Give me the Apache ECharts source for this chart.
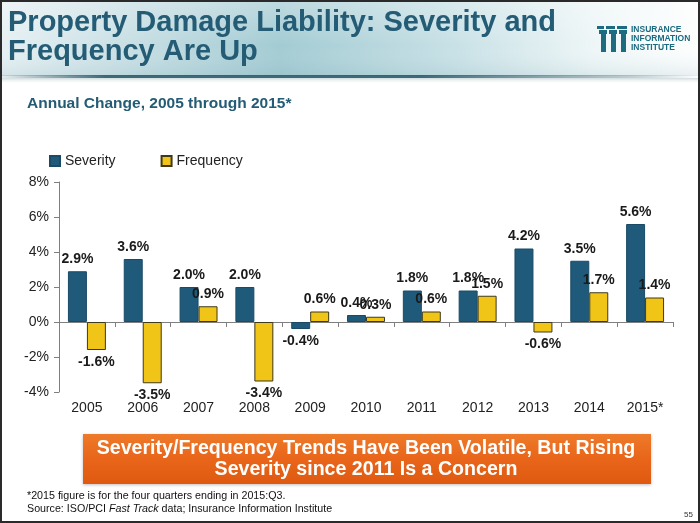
<!DOCTYPE html>
<html>
<head>
<meta charset="utf-8">
<script src="https://cdn.jsdelivr.net/npm/echarts@6/dist/echarts.min.js"></script>
<style>
html,body{margin:0;padding:0;background:#fff;}
#chart{width:700px;height:523px;}
</style>
</head>
<body>
<div id="chart"></div>
<script>
var categories = ['2005','2006','2007','2008','2009','2010','2011','2012','2013','2014','2015*'];
var severity = [2.9, 3.6, 2.0, 2.0, -0.4, 0.4, 1.8, 1.8, 4.2, 3.5, 5.6];
var frequency = [-1.6, -3.5, 0.9, -3.4, 0.6, 0.3, 0.6, 1.5, -0.6, 1.7, 1.4];
var yTicks = { min: -4, max: 8, interval: 2 };

var FONT = '"Liberation Sans", Arial, sans-serif';
var TITLE_COLOR = '#245b75';

function toItems(arr) {
  return arr.map(function (v) {
    return { value: v, label: { position: v < 0 ? 'bottom' : 'top' } };
  });
}

var chart = echarts.init(document.getElementById('chart'), null, { renderer: 'canvas' });

var option = {
  backgroundColor: '#ffffff',
  animation: false,
  textStyle: { fontFamily: FONT },
  legend: {
    left: 44, top: 149,
    itemWidth: 10, itemHeight: 10, itemGap: 45,
    icon: 'rect',
    textStyle: { fontSize: 14, color: '#222', fontFamily: FONT },
    data: ['Severity', 'Frequency']
  },
  grid: { left: 59, right: 27, top: 182, bottom: 131, containLabel: false },
  xAxis: [
    {
      type: 'category', data: categories,
      axisLine: { onZero: true, lineStyle: { color: '#7f7f7f', width: 1 } },
      axisTick: { show: true, length: 5, lineStyle: { color: '#7f7f7f' } },
      axisLabel: { show: false }
    },
    {
      type: 'category', data: categories, position: 'bottom',
      axisLine: { show: false, onZero: false },
      axisTick: { show: false },
      axisLabel: { show: true, fontSize: 14, color: '#222', margin: 9, fontFamily: FONT }
    }
  ],
  yAxis: {
    type: 'value', min: yTicks.min, max: yTicks.max, interval: yTicks.interval,
    axisLine: { show: true, lineStyle: { color: '#7f7f7f' } },
    axisTick: { show: true, length: 5, lineStyle: { color: '#7f7f7f' } },
    splitLine: { show: false },
    axisLabel: { fontSize: 14, color: '#222', margin: 10, fontFamily: FONT,
      formatter: function (v) { return v + '%'; } }
  },
  series: [
    {
      name: 'Severity', type: 'bar', xAxisIndex: 0,
      data: toItems(severity),
      barWidth: '34%', barGap: '0%',
      itemStyle: { color: '#1f5a7b', borderColor: '#1a4a66', borderWidth: 1 },
      label: { show: true, fontSize: 14, fontWeight: 'bold', color: '#1a1a1a', distance: 5,
        fontFamily: FONT, formatter: function (p) { return p.value.toFixed(1) + '%'; } }
    },
    {
      name: 'Frequency', type: 'bar', xAxisIndex: 0,
      data: toItems(frequency),
      barWidth: '34%', barGap: '0%',
      itemStyle: { color: '#f1c418', borderColor: '#3f381a', borderWidth: 1 },
      label: { show: true, fontSize: 14, fontWeight: 'bold', color: '#1a1a1a', distance: 5,
        fontFamily: FONT, formatter: function (p) { return p.value.toFixed(1) + '%'; } }
    }
  ],
  graphic: [
    // header band
    { type: 'rect', z: -10, shape: { x: 0, y: 0, width: 700, height: 76 },
      style: { fill: new echarts.graphic.LinearGradient(0, 0, 1, 0, [
        { offset: 0, color: '#e6f0f3' },
        { offset: 0.4, color: '#a3cbd3' },
        { offset: 0.65, color: '#c8e1e6' },
        { offset: 0.85, color: '#eef6f7' },
        { offset: 1, color: '#fdfefe' }
      ]) } },
    { type: 'rect', z: -9, shape: { x: 0, y: 0, width: 700, height: 76 },
      style: { fill: new echarts.graphic.LinearGradient(0, 0, 0, 1, [
        { offset: 0, color: 'rgba(255,255,255,0.3)' },
        { offset: 0.6, color: 'rgba(255,255,255,0)' },
        { offset: 1, color: 'rgba(110,160,172,0.15)' }
      ]) } },
    { type: 'rect', z: -8, shape: { x: 0, y: 75, width: 700, height: 3 },
      style: { fill: new echarts.graphic.LinearGradient(0, 0, 1, 0, [
        { offset: 0, color: 'rgba(40,90,105,0.1)' },
        { offset: 0.15, color: 'rgba(40,90,105,0.9)' },
        { offset: 0.6, color: 'rgba(40,90,105,0.9)' },
        { offset: 0.9, color: 'rgba(40,90,105,0.3)' },
        { offset: 1, color: 'rgba(40,90,105,0)' }
      ]) } },
    { type: 'rect', z: -8, shape: { x: 0, y: 78, width: 700, height: 6 },
      style: { fill: new echarts.graphic.LinearGradient(0, 0, 0, 1, [
        { offset: 0, color: 'rgba(120,150,160,0.35)' },
        { offset: 1, color: 'rgba(255,255,255,0)' }
      ]) } },
    // title
    { type: 'text', left: 8, top: 8, z: 10,
      style: { text: 'Property Damage Liability: Severity and\nFrequency Are Up',
        font: 'bold 29px ' + FONT, fill: TITLE_COLOR, lineHeight: 29 } },
    // logo
    { type: 'rect', z: 10, shape: { x: 597, y: 26, width: 7, height: 3 }, style: { fill: '#1d6b80' } },
    { type: 'rect', z: 10, shape: { x: 606, y: 26, width: 9, height: 3 }, style: { fill: '#1d6b80' } },
    { type: 'rect', z: 10, shape: { x: 617, y: 26, width: 10, height: 3 }, style: { fill: '#1d6b80' } },
    { type: 'rect', z: 10, shape: { x: 599, y: 30, width: 8, height: 4 }, style: { fill: '#1d6b80' } },
    { type: 'rect', z: 10, shape: { x: 609, y: 30, width: 8, height: 4 }, style: { fill: '#1d6b80' } },
    { type: 'rect', z: 10, shape: { x: 619, y: 30, width: 8, height: 4 }, style: { fill: '#1d6b80' } },
    { type: 'rect', z: 10, shape: { x: 601, y: 30, width: 5, height: 22 }, style: { fill: '#1d6b80' } },
    { type: 'rect', z: 10, shape: { x: 611, y: 30, width: 5, height: 22 }, style: { fill: '#1d6b80' } },
    { type: 'rect', z: 10, shape: { x: 621, y: 30, width: 5, height: 22 }, style: { fill: '#1d6b80' } },
    { type: 'text', left: 631, top: 25, z: 10,
      style: { text: 'INSURANCE\nINFORMATION\nINSTITUTE', font: 'bold 8.5px ' + FONT,
        fill: '#1d6b80', lineHeight: 9 } },
    // subtitle
    { type: 'text', left: 27, top: 96, z: 10,
      style: { text: 'Annual Change, 2005 through 2015*', font: 'bold 15.5px ' + FONT, fill: TITLE_COLOR } },
    // orange callout
    { type: 'rect', z: 5, shape: { x: 83, y: 434, width: 568, height: 50 },
      style: { fill: new echarts.graphic.LinearGradient(0, 0, 0, 1, [
        { offset: 0, color: '#ee7a2a' },
        { offset: 0.5, color: '#e8651a' },
        { offset: 1, color: '#df5a10' }
      ]), shadowBlur: 3, shadowColor: 'rgba(0,0,0,0.25)', shadowOffsetY: 1 } },
    { type: 'text', z: 6, x: 366, y: 459.5,
      style: { text: 'Severity/Frequency Trends Have Been Volatile, But Rising\nSeverity since 2011 Is a Concern',
        font: 'bold 19.6px ' + FONT, fill: '#ffffff', align: 'center', verticalAlign: 'middle', lineHeight: 21 } },
    // footnotes
    { type: 'text', left: 27, top: 491, z: 10,
      style: { text: '*2015 figure is for the four quarters ending in 2015:Q3.', font: '10.7px ' + FONT, fill: '#111' } },
    { type: 'text', left: 27, top: 504, z: 10,
      style: { text: '{n|Source: ISO/PCI }{i|Fast Track}{n| data; Insurance Information Institute}',
        rich: {
          n: { fontFamily: FONT, fontSize: 10.7, fill: '#111', color: '#111' },
          i: { fontFamily: FONT, fontSize: 10.7, fontStyle: 'italic', fill: '#111', color: '#111' }
        } } },
    { type: 'text', left: 684, top: 511, z: 10,
      style: { text: '55', font: '8px ' + FONT, fill: '#333' } },
    // frame
    { type: 'rect', z: 100, shape: { x: 1, y: 1, width: 698, height: 521 },
      style: { fill: 'none', stroke: '#2a2a2a', lineWidth: 2 } }
  ]
};
chart.setOption(option);
</script>
</body>
</html>
